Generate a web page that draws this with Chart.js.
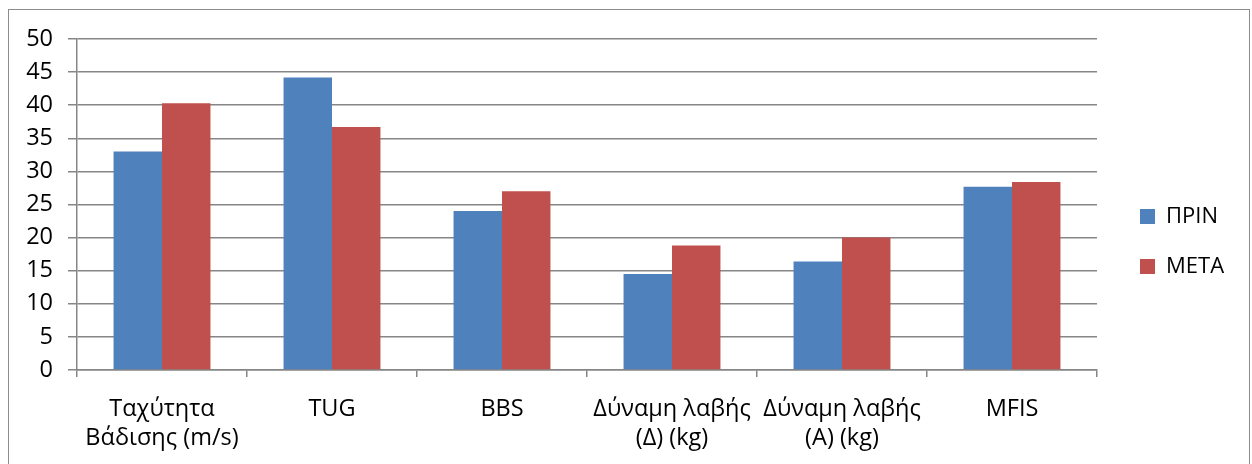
<!DOCTYPE html>
<html>
<head>
<meta charset="utf-8">
<script src="https://cdn.jsdelivr.net/npm/chart.js@4/dist/chart.umd.min.js"></script>
<style>
    html, body { margin: 0; padding: 0; background: #ffffff; }
    #wrap { position: relative; width: 1252px; height: 464px; overflow: hidden; }
    #frame {
        position: absolute; left: 8px; top: 9px; width: 1242px; height: 470px;
        border: 1px solid #8c8c8c; box-sizing: border-box;
    }
    #chart { position: absolute; left: 0; top: 0; }
</style>
</head>
<body>
<div id="wrap">
    <div id="frame"></div>
    <canvas id="chart" width="1252" height="464"></canvas>
</div>
<script>
// categories (multi-line labels)
const categories = [
    ['Ταχύτητα', 'Βάδισης (m/s)'],
    'TUG',
    'BBS',
    ['Δύναμη λαβής', '(Δ) (kg)'],
    ['Δύναμη λαβής', '(Α) (kg)'],
    'MFIS'
];

// series values
const prin = [33.0, 44.2, 24.0, 14.5, 16.4, 27.7];
const meta = [40.3, 36.7, 27.0, 18.8, 20.0, 28.4];

const seriesNames = ['ΠΡΙΝ', 'ΜΕΤΑ'];
const seriesColors = ['#4F81BD', '#C0504D'];

// y axis
const yMin = 0;
const yMax = 50;
const yStep = 5;

const gridColor = '#868686';
const fontFamily = '"Open Sans", "Noto Sans", sans-serif';
const axisFontSize = 23.5;
const legendFontSize = 22;

// fixed legend width + small nudge so it sits where the original put it
const legendPlace = {
    id: 'legendPlace',
    beforeUpdate(chart) {
        const lg = chart.legend;
        if (!lg || lg._fitPatched) return;
        const fit = lg.fit;
        lg.fit = function () {
            fit.call(this);
            this.width = 155;
        };
        lg._fitPatched = true;
    },
    afterLayout(chart) {
        const lg = chart.legend;
        if (!lg) return;
        lg.left += 15;
        lg.right += 15;
        lg.top -= 10;
        lg.bottom -= 10;
    }
};

const ctx = document.getElementById('chart').getContext('2d');

const chart = new Chart(ctx, {
    type: 'bar',
    data: {
        labels: categories,
        datasets: [
            {
                label: seriesNames[0],
                data: prin,
                backgroundColor: seriesColors[0],
                categoryPercentage: 0.57,
                barPercentage: 1.0
            },
            {
                label: seriesNames[1],
                data: meta,
                backgroundColor: seriesColors[1],
                categoryPercentage: 0.57,
                barPercentage: 1.0
            }
        ]
    },
    options: {
        responsive: false,
        animation: false,
        layout: {
            padding: { top: 39, left: 0, right: 0, bottom: 0 }
        },
        plugins: {
            tooltip: { enabled: false },
            legend: {
                position: 'right',
                labels: {
                    color: '#000000',
                    boxWidth: 15,
                    boxHeight: 15,
                    padding: 28,
                    font: { family: fontFamily, size: legendFontSize }
                }
            }
        },
        scales: {
            x: {
                afterFit(scale) { scale.height = 94; },
                grid: {
                    offset: true,
                    drawOnChartArea: false,
                    color: gridColor,
                    lineWidth: 1.5,
                    tickLength: 7
                },
                border: { display: true, color: gridColor, width: 1.5 },
                ticks: {
                    color: '#000000',
                    padding: 17,
                    maxRotation: 0,
                    autoSkip: false,
                    font: { family: fontFamily, size: axisFontSize, lineHeight: 1.27 }
                }
            },
            y: {
                min: yMin,
                max: yMax,
                afterFit(scale) { scale.width = 77; },
                grid: {
                    color: gridColor,
                    lineWidth: 1.5,
                    tickLength: 9
                },
                border: { display: true, color: gridColor, width: 1.5 },
                ticks: {
                    stepSize: yStep,
                    color: '#000000',
                    padding: 15,
                    font: { family: fontFamily, size: axisFontSize }
                }
            }
        }
    },
    plugins: [legendPlace]
});
</script>
</body>
</html>
